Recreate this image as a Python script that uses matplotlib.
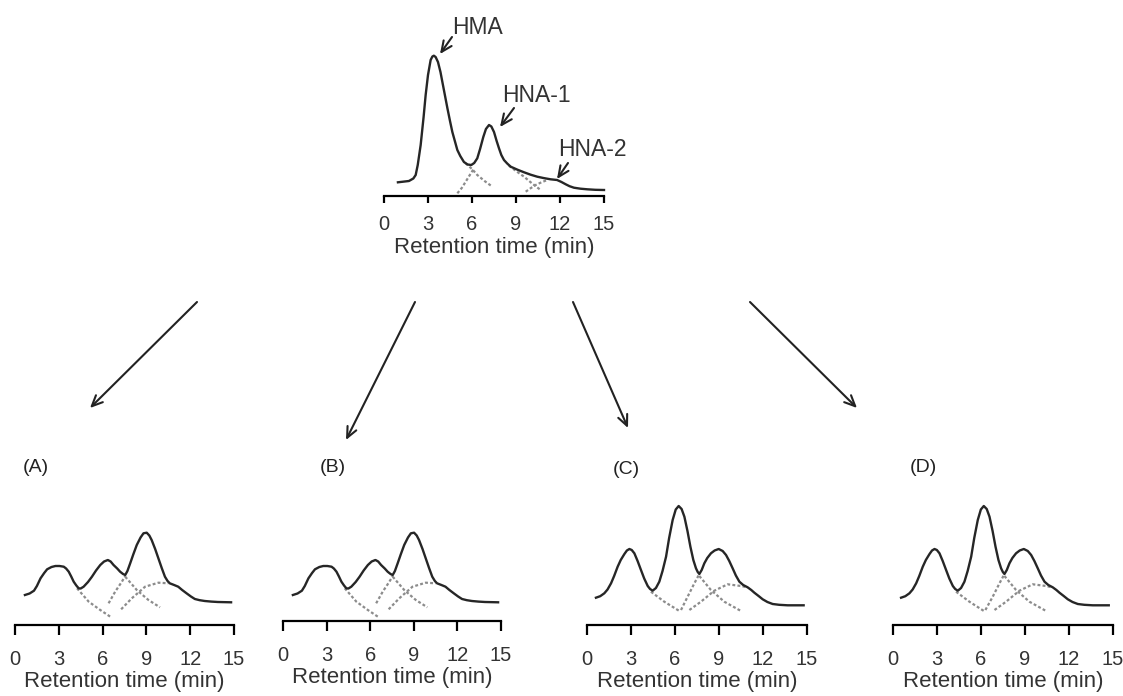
#!/usr/bin/env python3

import matplotlib
matplotlib.use('Agg')
import matplotlib.pyplot as plt

plt.rcParams['font.family'] = ['Liberation Sans', 'DejaVu Sans']

W, H = 1123, 696
TICKS = [0, 3, 6, 9, 12, 15]
XLABEL = 'Retention time (min)'

######## top chromatogram (signal height above the time axis)
top_t = [0.95, 1.7, 2.0, 2.16, 2.3, 2.5, 2.7, 2.84, 3.0, 3.18, 3.3, 3.4, 3.52, 3.68, 3.85,
         3.98, 4.15, 4.32, 4.5, 4.66, 5.0, 5.2, 5.45, 5.7, 5.95, 6.15, 6.36, 6.55, 6.77, 6.95,
         7.16, 7.32, 7.5, 7.68, 7.84, 8.0, 8.18, 8.4, 8.64, 9.1, 9.55, 10.0, 10.45, 10.9, 11.36,
         11.8, 12.1, 12.39, 12.65, 12.95, 13.4, 13.86, 14.4, 15.0]
top_h = [13.7, 15, 17.5, 21, 31, 51, 79, 101, 121, 136, 139.5, 140.3, 139, 134, 124,
         114, 101, 88, 75, 64, 46, 40, 34, 31.5, 31, 33, 37.7, 47, 59, 67,
         71, 69.5, 64, 55, 47.7, 41, 36, 32.5, 29.3, 26.3, 23.7, 21.3, 19.3, 17.9, 16.7,
         16, 14, 11.7, 9.8, 8.3, 7.3, 6.7, 6.2, 6]
top_hma_tail_t = [5.57, 6.0, 6.36, 6.9, 7.39]
top_hma_tail_h = [32.7, 27, 21, 14.5, 9.3]
top_hna1_rise_t = [5.0, 5.3, 5.57, 5.85, 6.14]
top_hna1_rise_h = [2.7, 8, 14.3, 21, 27.7]
top_hna1_tail_t = [8.52, 9.0, 9.55, 10.1, 10.68]
top_hna1_tail_h = [30.3, 25, 19.3, 12.5, 6]
top_hna2_rise_t = [9.66, 10.0, 10.34, 10.75, 11.14]
top_hna2_rise_h = [4.3, 7.8, 11, 13.8, 16]

######## panel A
a_t = [0.68, 1.0, 1.3, 1.5, 1.75, 2.0, 2.2, 2.5, 2.77, 3.05, 3.34, 3.5, 3.68, 3.85, 4.02,
       4.2, 4.36, 4.5, 4.7, 5.0, 5.27, 5.55, 5.84, 6.1, 6.36, 6.55, 6.75, 7.0, 7.2, 7.4,
       7.55, 7.7, 7.89, 8.1, 8.34, 8.6, 8.8, 9.02, 9.2, 9.36, 9.6, 9.82, 10.05, 10.27, 10.45,
       10.6, 10.9, 11.18, 11.45, 11.75, 12.05, 12.32, 12.65, 13.0, 13.45, 13.9, 14.8]
a_h = [30, 31.5, 34.3, 39, 46.7, 52, 55.7, 58, 59, 59, 58.3, 56.5, 53.3, 48.5, 43.3,
       39.5, 36.7, 36.5, 38.3, 43, 48.3, 54.5, 60, 63.5, 65, 63.5, 60, 56.5, 53.3, 51,
       50, 54, 61.7, 70.5, 80, 87.5, 91.7, 92.3, 89.5, 85, 76, 66.7, 57, 48.3, 44,
       41.7, 40, 38.3, 35, 31.7, 28.5, 26, 24.8, 24, 23.4, 23, 22.7]
a_p1_tail_t = [4.25, 5.05, 5.84, 6.59]
a_p1_tail_h = [36.7, 23.3, 15, 7.7]
a_p2_rise_t = [6.41, 6.86, 7.32, 7.55]
a_p2_rise_h = [21.7, 33.3, 43.3, 49]
a_p2_tail_t = [7.55, 8.34, 9.14, 9.93]
a_p2_tail_h = [48.3, 35, 25, 17.7]
a_p3_t = [7.27, 8.0, 8.91, 9.82, 10.5]
a_p3_h = [15.7, 26.7, 38.3, 42.3, 41.7]

######## panel B (same time grid as A)
b_t = a_t
b_h = [26, 27.5, 30.3, 35, 42.7, 48, 51.7, 54, 55, 55, 54.3, 52.5, 49.3, 44.5, 39.3,
       35.5, 32.7, 32.5, 34.3, 39, 44.3, 50.5, 56, 59.5, 61, 59.5, 56, 52.5, 49.3, 47,
       46, 50, 57.7, 66.5, 76, 83.5, 87.7, 88.3, 85.5, 81, 72, 62.7, 53, 44.3, 40,
       37.7, 36, 34.3, 31, 27.7, 24.5, 22, 20.8, 20, 19.4, 19, 18.7]
b_p1_tail_t = [4.25, 5.05, 5.84, 6.59]
b_p1_tail_h = [32.7, 19.3, 11, 3.7]
b_p2_rise_t = [6.41, 6.86, 7.32, 7.55]
b_p2_rise_h = [17.7, 29.3, 39.3, 45]
b_p2_tail_t = [7.55, 8.34, 9.14, 9.93]
b_p2_tail_h = [44.3, 31, 21, 13.7]
b_p3_t = [7.27, 8.0, 8.91, 9.82, 10.5]
b_p3_h = [11.7, 22.7, 34.3, 38.3, 37.7]

######## panel C
c_t = [0.61, 0.9, 1.18, 1.4, 1.64, 1.85, 2.09, 2.3, 2.55, 2.72, 2.89, 3.05, 3.23, 3.45, 3.68,
       3.9, 4.14, 4.3, 4.48, 4.7, 4.93, 5.15, 5.39, 5.6, 5.84, 6.05, 6.25, 6.45, 6.64, 6.85,
       7.05, 7.25, 7.43, 7.55, 7.66, 7.82, 8.0, 8.2, 8.45, 8.7, 8.98, 9.25, 9.48, 9.7, 9.93,
       10.15, 10.39, 10.65, 10.95, 11.2, 11.41, 11.7, 11.98, 12.3, 12.66, 13.1, 13.68, 14.77]
c_h = [27.3, 28.8, 31.7, 35.5, 41.7, 49, 58.3, 65, 71, 74.5, 76, 75, 71.7, 64, 55,
       46.5, 39, 36, 34.3, 37, 43.3, 54, 68.3, 87, 105, 115.5, 119, 116, 108.3, 94,
       78.3, 65, 56.7, 53, 51, 55, 61.7, 67, 71.7, 74.5, 76, 74, 70, 64, 56.7,
       49.5, 43.3, 40, 37.7, 35, 32.3, 29, 25.7, 23, 21, 20.2, 19.7, 19.7]
c_p1_tail_t = [4.36, 5.27, 6.3]
c_p1_tail_h = [33.3, 23.3, 14]
c_p2_rise_t = [6.41, 6.86, 7.32, 7.66]
c_p2_rise_h = [15, 28.3, 41.7, 51]
c_p2_tail_t = [7.66, 8.45, 9.36, 10.5]
c_p2_tail_h = [49, 35, 23.3, 14]
c_p3_t = [6.98, 7.77, 8.68, 9.59, 10.5, 10.95]
c_p3_h = [15, 23.3, 34.3, 40.7, 39, 37.7]

######## panel D (same heights as C, slightly earlier)
d_t = [0.55, 0.84, 1.12, 1.34, 1.58, 1.79, 2.03, 2.24, 2.49, 2.66, 2.83, 2.99, 3.17, 3.39, 3.62,
       3.84, 4.08, 4.24, 4.42, 4.64, 4.87, 5.09, 5.33, 5.54, 5.78, 5.99, 6.19, 6.39, 6.58, 6.79,
       6.99, 7.19, 7.37, 7.49, 7.6, 7.76, 7.94, 8.14, 8.39, 8.64, 8.92, 9.19, 9.42, 9.64, 9.87,
       10.09, 10.33, 10.59, 10.89, 11.14, 11.35, 11.64, 11.92, 12.24, 12.6, 13.04, 13.62, 14.71]
d_h = c_h
d_p1_tail_t = [4.3, 5.21, 6.2]
d_p1_tail_h = [33.3, 23.3, 14]
d_p2_rise_t = [6.3, 6.8, 7.26, 7.6]
d_p2_rise_h = [15, 28.3, 41.7, 51]
d_p2_tail_t = [7.6, 8.39, 9.3, 10.44]
d_p2_tail_h = [49, 35, 23.3, 14]
d_p3_t = [6.92, 7.71, 8.62, 9.53, 10.44, 10.85]
d_p3_h = [15, 23.3, 34.3, 40.7, 39, 37.7]

PANEL_LABELS = ['(A)', '(B)', '(C)', '(D)']

SOLID = '#262626'
DOTTED = '#8c8c8c'
TEXT = '#333333'


def px_rect(x0, x1, ytop, ybottom):
    return [x0 / W, (H - ybottom) / H, (x1 - x0) / W, (ybottom - ytop) / H]


def draw_panel(fig, rect, ymax, solid, dotted, tick_len, tick_pad):
    ax = fig.add_axes(rect)
    ax.set_xlim(0, 15)
    ax.set_ylim(0, ymax)
    for side in ['top', 'left', 'right']:
        ax.spines[side].set_visible(False)
    ax.spines['bottom'].set_linewidth(1.6)
    ax.set_yticks([])
    ax.set_xticks(TICKS)
    ax.tick_params(axis='x', direction='out', length=tick_len, width=1.6, pad=tick_pad,
                   labelsize=14.5, labelcolor=TEXT)
    ax.set_xlabel(XLABEL, fontsize=16, color=TEXT, labelpad=2)
    for t, h in dotted:
        ax.plot(t, h, color=DOTTED, lw=1.6, ls=(0, (1.3, 1.0)), clip_on=False)
    ax.plot(solid[0], solid[1], color=SOLID, lw=1.7, clip_on=False)
    ax.patch.set_alpha(0)
    return ax


fig = plt.figure(figsize=(W / 100, H / 100), dpi=100)

draw_panel(fig, px_rect(384, 604, 40, 196), 156, (top_t, top_h),
           [(top_hma_tail_t, top_hma_tail_h), (top_hna1_rise_t, top_hna1_rise_h),
            (top_hna1_tail_t, top_hna1_tail_h), (top_hna2_rise_t, top_hna2_rise_h)],
           5, 8.5)

draw_panel(fig, px_rect(15, 234, 520, 625), 105, (a_t, a_h),
           [(a_p1_tail_t, a_p1_tail_h), (a_p2_rise_t, a_p2_rise_h),
            (a_p2_tail_t, a_p2_tail_h), (a_p3_t, a_p3_h)], 7.2, 10.5)
draw_panel(fig, px_rect(283, 501, 516, 621), 105, (b_t, b_h),
           [(b_p1_tail_t, b_p1_tail_h), (b_p2_rise_t, b_p2_rise_h),
            (b_p2_tail_t, b_p2_tail_h), (b_p3_t, b_p3_h)], 7.2, 10.5)
draw_panel(fig, px_rect(587, 807, 495, 625), 130, (c_t, c_h),
           [(c_p1_tail_t, c_p1_tail_h), (c_p2_rise_t, c_p2_rise_h),
            (c_p2_tail_t, c_p2_tail_h), (c_p3_t, c_p3_h)], 7.2, 10.5)
draw_panel(fig, px_rect(893, 1113, 495, 625), 130, (d_t, d_h),
           [(d_p1_tail_t, d_p1_tail_h), (d_p2_rise_t, d_p2_rise_h),
            (d_p2_tail_t, d_p2_tail_h), (d_p3_t, d_p3_h)], 7.2, 10.5)

# overlay in pixel coordinates for arrows and labels
over = fig.add_axes([0, 0, 1, 1])
over.set_xlim(0, W)
over.set_ylim(H, 0)
over.axis('off')
over.patch.set_alpha(0)

arrow_kw = dict(arrowstyle='->,head_length=0.55,head_width=0.25', color='#222222',
                lw=1.5, mutation_scale=14, shrinkA=0, shrinkB=0)

# big arrows from the top chromatogram to the panels
for start, end in [((197, 302), (90, 408)), ((415, 302), (346, 440)),
                   ((573, 302), (628, 428)), ((750, 302), (857, 408))]:
    over.annotate('', xy=end, xytext=start, arrowprops=arrow_kw)

# peak labels
for name, pos, start, end in [('HMA', (477, 27), (452, 37), (440, 54)),
                              ('HNA-1', (536, 96), (514, 108), (500, 127)),
                              ('HNA-2', (592, 149), (568, 163), (557, 179))]:
    over.text(pos[0], pos[1], name, fontsize=16.5, color=TEXT, ha='center', va='center')
    over.annotate('', xy=end, xytext=start, arrowprops=arrow_kw)

for label, pos in zip(PANEL_LABELS, [(36, 467), (333, 467), (626, 469), (923, 468)]):
    over.text(pos[0], pos[1], label, fontsize=14, color='#222222', ha='center', va='center')

fig.savefig('out.png', dpi=100)
